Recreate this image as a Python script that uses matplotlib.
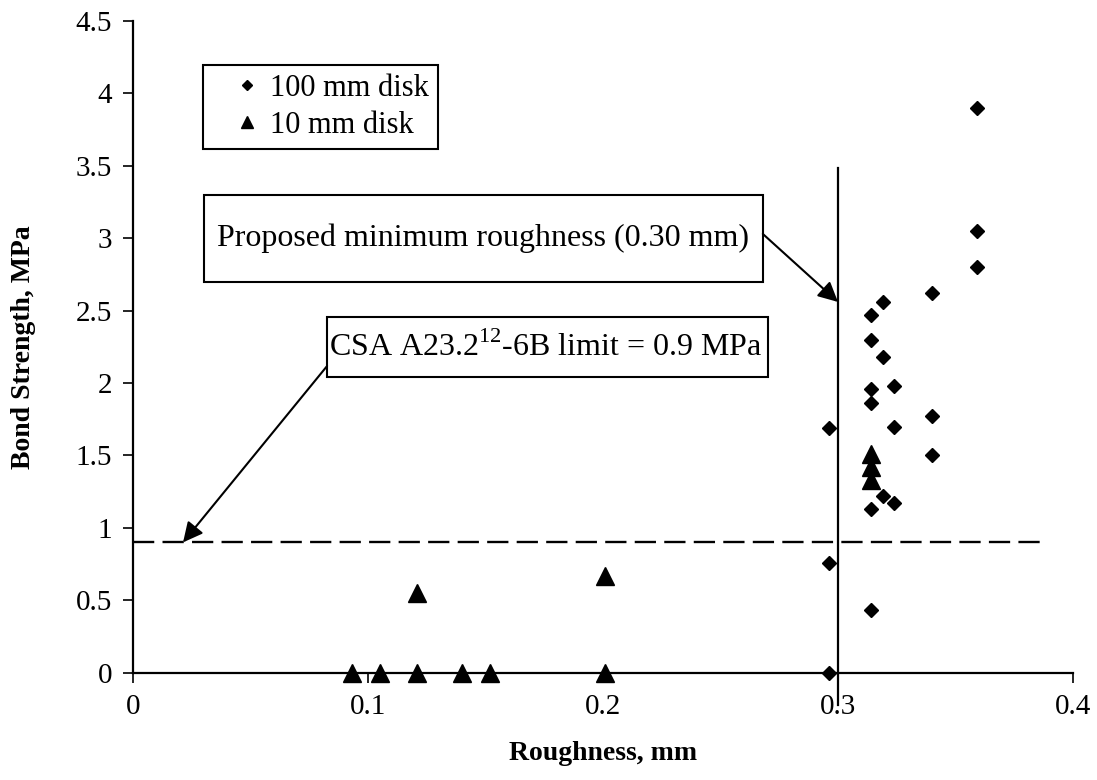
import matplotlib
matplotlib.use("Agg")
import matplotlib.pyplot as plt
from matplotlib.patches import Rectangle
import numpy as np

plt.rcParams['font.family'] = ['Liberation Serif', 'DejaVu Serif']
plt.rcParams['mathtext.fontset'] = 'custom'
plt.rcParams['mathtext.rm'] = 'Liberation Serif'

# bond strength vs. roughness, 100 mm pull-off disks
disk100_rough = [0.359, 0.359, 0.359, 0.340, 0.319, 0.314, 0.314, 0.319, 0.324, 0.314, 0.314,
                 0.296, 0.340, 0.324, 0.340, 0.319, 0.324, 0.314, 0.296, 0.314, 0.296]
disk100_bond = [3.90, 3.05, 2.80, 2.62, 2.56, 2.47, 2.30, 2.18, 1.98, 1.96, 1.86,
                1.69, 1.77, 1.70, 1.50, 1.22, 1.17, 1.13, 0.76, 0.43, 0.0]

# 10 mm disks
disk10_rough = [0.093, 0.105, 0.121, 0.140, 0.152, 0.201, 0.121, 0.201, 0.314, 0.314, 0.314]
disk10_bond = [0.0, 0.0, 0.0, 0.0, 0.0, 0.0, 0.55, 0.67, 1.33, 1.42, 1.51]

x_ticks = [0, 0.1, 0.2, 0.3, 0.4]
x_tick_labels = ['0', '0.1', '0.2', '0.3', '0.4']
y_ticks = [0, 0.5, 1, 1.5, 2, 2.5, 3, 3.5, 4, 4.5]
y_tick_labels = ['0', '0.5', '1', '1.5', '2', '2.5', '3', '3.5', '4', '4.5']

min_roughness = 0.30
csa_limit = 0.9

W, H = 1097, 780
fig = plt.figure(figsize=(W / 100, H / 100), dpi=100)
ax = fig.add_axes([133 / W, 1 - 672.7 / H, 940 / W, (672.7 - 21) / H])

ax.plot(disk100_rough, disk100_bond, linestyle='none', marker='D', ms=7.6,
        color='black', label='100 mm disk', zorder=6, clip_on=False)
ax.plot(disk10_rough, disk10_bond, linestyle='none', marker='^', ms=13,
        color='black', label='10 mm disk', zorder=6, clip_on=False)

# proposed minimum roughness and CSA limit lines
ax.plot([min_roughness, min_roughness], [-0.22, 3.485], color='black', lw=1.6,
        clip_on=False, zorder=3)
ax.plot([0, 0.386], [csa_limit, csa_limit], color='black', lw=1.7,
        linestyle=(0, (9, 3.5)), zorder=3)

ax.set_xlim(0, 0.4)
ax.set_ylim(0, 4.5)
ax.set_xticks(x_ticks)
ax.set_xticklabels(x_tick_labels)
ax.set_yticks(y_ticks)
ax.set_yticklabels(y_tick_labels)
ax.tick_params(axis='both', labelsize=21, length=7, width=1.2, direction='out')
ax.tick_params(axis='x', pad=8)
ax.tick_params(axis='y', pad=8)
for side in ['top', 'right']:
    ax.spines[side].set_visible(False)
for side in ['left', 'bottom']:
    ax.spines[side].set_linewidth(1.6)

ax.set_xlabel('Roughness, mm', fontsize=20, fontweight='bold')
ax.set_ylabel('Bond Strength, MPa', fontsize=20, fontweight='bold')
ax.xaxis.set_label_coords(0.5, -0.105)
ax.yaxis.set_label_coords(-0.103, 0.5)

leg = ax.legend(loc='upper left', bbox_to_anchor=(0.0745, 0.9325), frameon=True,
                fancybox=False, edgecolor='black', framealpha=1, fontsize=22,
                borderpad=0.3, labelspacing=0.25, handlelength=2.3,
                handletextpad=-0.4, borderaxespad=0, markerscale=0.7)
leg.get_frame().set_linewidth(1.5)

# callout boxes
ax.add_patch(Rectangle((0.030, 2.70), 0.238, 0.60, facecolor='white',
                       edgecolor='black', lw=1.5, zorder=4))
ax.text(0.149, 3.0, 'Proposed minimum roughness (0.30 mm)', fontsize=23,
        ha='center', va='center', zorder=5)

csa_left = 0.0826
csa_txt = ax.text(csa_left + 0.001, 2.2475, r'CSA A23.2$^{\mathrm{12}}$-6B limit = 0.9 MPa',
                  fontsize=23, ha='left', va='center', zorder=5)
fig.canvas.draw()
bb = csa_txt.get_window_extent()
csa_right = ax.transData.inverted().transform((bb.x1 + 5, 0))[0]
ax.add_patch(Rectangle((csa_left, 2.04), csa_right - csa_left, 0.415, facecolor='white',
                       edgecolor='black', lw=1.5, zorder=4))

arrow = dict(arrowstyle='-|>,head_length=0.6,head_width=0.3', color='black', lw=1.5,
             mutation_scale=20, shrinkA=0, shrinkB=0)
ax.annotate('', xy=(min_roughness, 2.56), xytext=(0.268, 3.03), arrowprops=arrow, zorder=5)
ax.annotate('', xy=(0.0213, csa_limit), xytext=(csa_left, 2.118), arrowprops=arrow, zorder=5)

fig.savefig('out.png', dpi=100)
